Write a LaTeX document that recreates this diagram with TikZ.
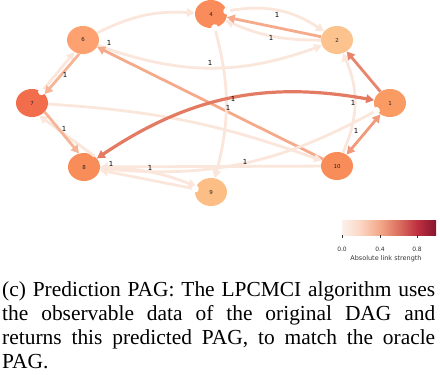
\documentclass[tikz,border=0pt]{standalone}
\usepackage{fontspec}
\setmainfont{Liberation Serif}
\newfontfamily\lblfont{DejaVu Sans}
\usetikzlibrary{arrows.meta,shapes.geometric}
\definecolor{c4}{HTML}{F98C5A}
\definecolor{c2}{HTML}{FDC38E}
\definecolor{c6}{HTML}{FCA16F}
\definecolor{c7}{HTML}{F26D4C}
\definecolor{c1}{HTML}{FA9B64}
\definecolor{c8}{HTML}{F98D59}
\definecolor{c10}{HTML}{F98D59}
\definecolor{c9}{HTML}{FDBE86}
\definecolor{clight}{HTML}{FBE6DB}
\definecolor{csal}{HTML}{F5AA8B}
\definecolor{csal2}{HTML}{F6B597}
\definecolor{cmid}{HTML}{EF9B7B}
\definecolor{cstrongb}{HTML}{E8846B}
\definecolor{cstrong}{HTML}{E37B62}
\definecolor{cbA}{HTML}{FBF1EC}
\definecolor{cbB}{HTML}{FBD5C3}
\definecolor{cbC}{HTML}{F3A98A}
\definecolor{cbD}{HTML}{DC7060}
\definecolor{cbE}{HTML}{BE3040}
\definecolor{cbF}{HTML}{861530}
\pgfdeclarehorizontalshading{cbar}{100bp}{color(0bp)=(cbA); color(25bp)=(cbA); color(35bp)=(cbB); color(45bp)=(cbC); color(55bp)=(cbD); color(65bp)=(cbE); color(75bp)=(cbF); color(100bp)=(cbF)}
\begin{document}
\begin{tikzpicture}[x=1bp,y=1bp,
  gnode/.style={ellipse, minimum width=32bp, minimum height=28bp, inner sep=0pt,
    font=\lblfont\fontsize{5.5}{6}\selectfont, text=black!85},
  edge/.style={line width=2.8bp},
  lightedge/.style={edge, draw=clight},
  arr/.style={-{Triangle[length=8bp,width=8.5bp]}},
  arrboth/.style={{Triangle[length=8bp,width=8.5bp]}-{Triangle[length=8bp,width=8.5bp]}},
  circarr/.style={{Circle[length=7bp,fill=white,color=white]}-{Triangle[length=8bp,width=8.5bp]}, shorten <=-3.5bp},
  elabel/.style={font=\lblfont\fontsize{7}{7}\selectfont, inner sep=0pt, text=black},
  cblabel/.style={font=\lblfont\fontsize{6}{6}\selectfont, inner sep=0pt, text=black!80}]
\useasboundingbox (0,0) rectangle (440,-374);
% nodes
\node[gnode, fill=c4] (n4) at (211,-14) {4};
\node[gnode, fill=c2] (n2) at (337,-40) {2};
\node[gnode, fill=c6] (n6) at (83,-40) {6};
\node[gnode, fill=c7] (n7) at (32,-103) {7};
\node[gnode, fill=c1] (n1) at (390,-103) {1};
\node[gnode, fill=c8] (n8) at (84,-167) {8};
\node[gnode, fill=c10] (n10) at (337,-166) {10};
\node[gnode, fill=c9] (n9) at (211,-192) {9};
% edges
\draw[lightedge, circarr] (n4) to[bend left=22] (n2);
\draw[lightedge, arr] (n2) to[bend left=12] (n4);
\draw[edge, draw=csal, arr] (n2) -- (n4);
\draw[lightedge, arr] (n6) to[bend left=15] (n4);
\draw[lightedge, arr] (n6) to[bend right=20] (n2);
\draw[edge, draw=csal, arr] (n10) -- (n6);
\draw[lightedge, circarr] (n7.50) -- (n6.235);
\draw[edge, draw=csal2, arr] (n6.255) -- (n7.35);
\draw[lightedge, arr] (n7) to[bend left=8] (n10);
\draw[lightedge, circarr] (n4) to[bend left=15] (n9);
\draw[lightedge, arr] (n10) to[bend right=24] (n2);
\draw[lightedge, circarr] (n1) to[bend left=17] (n8);
\draw[lightedge, arr] (n10) -- (n8);
\draw[lightedge, arr] (n8) to[bend left=10] (n9);
\draw[lightedge, circarr] (n9) -- (n8);
\draw[lightedge, arr] (n8.45) -- (n7.-60);
\draw[edge, draw=csal2, arr] (n7.-35) -- (n8.110);
\draw[edge, draw=cmid, arrboth] (n1) -- (n10);
\draw[edge, draw=cstrongb, arr] (n1) -- (n2);
\draw[edge, line width=3.2bp, draw=cstrong, arrboth] (n8) to[bend left=22] (n1);
% edge labels
\node[elabel] (l1) at (277,-15) {1};
\node[elabel] (l2) at (271,-38) {1};
\node[elabel] (l3) at (210,-63) {1};
\node[elabel] (l4) at (109,-43) {1};
\node[elabel] (l5) at (65,-75) {1};
\node[elabel] (l6) at (64,-129) {1};
\node[elabel] (l7) at (233,-99) {1};
\node[elabel] (l8) at (228,-108) {1};
\node[elabel] (l9) at (353,-103) {1};
\node[elabel] (l10) at (356,-131) {1};
\node[elabel] (l11) at (245,-162) {1};
\node[elabel] (l12) at (150,-168) {1};
\node[elabel] (l13) at (111,-164) {1};
% colour bar
\shade[shading=cbar] (342,-220) rectangle (436,-235);
\draw[black!80, line width=0.5bp] (342,-235) -- (342,-238) (380,-235) -- (380,-238) (417,-235) -- (417,-238);
\node[cblabel] (cb0) at (342,-249) {0.0};
\node[cblabel] (cb4) at (380,-249) {0.4};
\node[cblabel] (cb8) at (417,-249) {0.8};
\node[cblabel, font=\lblfont\fontsize{6.5}{6.5}\selectfont] (cbt) at (386,-259) {Absolute link strength};
% caption
\node[anchor=north west, inner sep=0pt, text width=433bp, align=justify,
  font=\fontsize{21.5}{24.2}\selectfont] (cap) at (2,-281)
  {(c) Prediction PAG: The LPCMCI algorithm uses\linebreak the observable data of the original DAG and\linebreak returns this predicted PAG, to match the oracle\linebreak PAG.};
\end{tikzpicture}
\end{document}
